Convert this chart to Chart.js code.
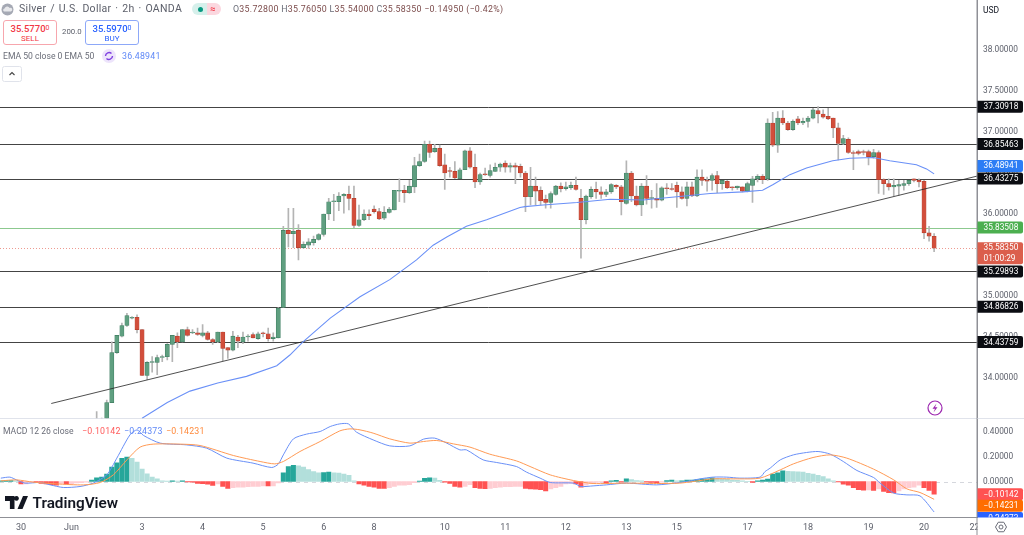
<!DOCTYPE html>
<html><head><meta charset="utf-8">
<script src="https://cdn.jsdelivr.net/npm/chart.js@4"></script>
<style>
html,body{margin:0;padding:0;background:#fff;width:1024px;height:535px;overflow:hidden;font-family:Roboto,sans-serif}
canvas{position:absolute;left:0;top:0}
.t{position:absolute;white-space:nowrap;line-height:12px}
.box{position:absolute;border-radius:3px;box-sizing:border-box;background:#fff;text-align:center}
.box b{display:block;font-weight:500;font-size:9.5px;line-height:11px;margin-top:2px}
.box b small{font-size:7px;vertical-align:2px;font-weight:400}
.box span{display:block;font-size:8px;line-height:10px}
</style></head><body>
<canvas id="c" width="1024" height="535"></canvas>
<svg style="position:absolute;left:1px;top:3px" width="13" height="13" viewBox="0 0 13 13"><circle cx="6.5" cy="6.5" r="6" fill="#a5a9b4"/><path d="M3 8.5a1.6 1.6 0 0 1 .5-3 2.8 2.8 0 0 1 5.2-.6 1.9 1.9 0 0 1 1.3 3.6z" fill="#e8e9ec"/></svg>
<div class="t" style="left:19px;top:3px;font-size:10.5px;color:#5d606b;letter-spacing:.3px;word-spacing:1px">Silver / U.S. Dollar · 2h · OANDA</div>
<div style="position:absolute;left:192px;top:3px;width:29px;height:12px;border-radius:6px;background:linear-gradient(90deg,#d6f0eb 50%,#fbd7df 50%)"></div>
<div style="position:absolute;left:197.5px;top:6.5px;width:5px;height:5px;border-radius:3px;background:#089981"></div>
<div class="t" style="left:210px;top:3px;font-size:9px;color:#f23645;font-weight:700">≈</div>
<div class="t" style="left:233px;top:3px;font-size:8.8px;color:#7d4d4d;letter-spacing:.3px"><span style="color:#6a6d78">O</span>35.72800 <span style="color:#6a6d78">H</span>35.76050 <span style="color:#6a6d78">L</span>35.54000 <span style="color:#6a6d78">C</span>35.58350 −0.14950 (−0.42%)</div>
<div class="box" style="left:3px;top:20px;width:54px;height:25px;border:1px solid #f7a6ad;color:#f23645"><b>35.5770<small>0</small></b><span>SELL</span></div>
<div class="t" style="left:62px;top:26px;font-size:7.8px;color:#5d606b">200.0</div>
<div class="box" style="left:85px;top:20px;width:54px;height:25px;border:1px solid #8da8f8;color:#2962ff"><b>35.5970<small>0</small></b><span>BUY</span></div>
<div class="t" style="left:3px;top:50px;font-size:8.6px;color:#6a6d78">EMA 50 close 0 EMA 50</div>
<svg style="position:absolute;left:102px;top:49px" width="14" height="14" viewBox="0 0 14 14"><circle cx="7" cy="7" r="7" fill="#ede4fb"/><path d="M3.5 7a3.5 3.5 0 0 1 6-2.4M10.5 7a3.5 3.5 0 0 1-6 2.4" fill="none" stroke="#7e3fe0" stroke-width="1.4"/></svg>
<div class="t" style="left:122px;top:50px;font-size:8.8px;color:#5f88f7;letter-spacing:.2px">36.48941</div>
<svg style="position:absolute;left:2px;top:66px" width="20" height="16" viewBox="0 0 20 16"><rect x=".5" y=".5" width="19" height="15" rx="2" fill="#fff" stroke="#e0e3eb"/><path d="M7.5 9l2.5-2.5 2.5 2.5" fill="none" stroke="#444" stroke-width="1.1"/></svg>
<div class="t" style="left:3px;top:425px;font-size:8.6px;color:#6a6d78">MACD 12 26 close</div>
<div class="t" style="left:82px;top:425px;font-size:8.8px;color:#ff5b5b;letter-spacing:.2px">−0.10142</div>
<div class="t" style="left:124px;top:425px;font-size:8.8px;color:#5f88f7;letter-spacing:.2px">−0.24373</div>
<div class="t" style="left:166px;top:425px;font-size:8.8px;color:#ff8a3c;letter-spacing:.2px">−0.14231</div>
<svg style="position:absolute;left:5px;top:496px" width="23" height="14" viewBox="0 0 23 14"><path d="M0 0h9.5v13h-4.6V5H0z M11.5 0a2.4 2.4 0 1 1-.01 0 M18 0h5l-5.5 13h-5z" fill="#131722"/></svg>
<div class="t" style="left:32.5px;top:495px;font-size:15.3px;line-height:16px;font-weight:600;color:#131722">TradingView</div>
<div class="t" style="left:983px;top:4px;font-size:8.5px;color:#131722">USD</div>
<script>
const priceTicks=[34,34.5,35,35.5,36,36.5,37,37.5,38];
const macdTicks=[0.4,0.2,0,-0.2];
const dayTickIndex=[4,14,28,40,52,64,74,88,100,112,124,134,148,160,172,183,193];
const dayTickLabels=['30','Jun','3','4','5','6','8','10','11','12','13','15','17','18','19','20','22'];
const blackLevels=[37.30918,36.85463,36.43275,35.29893,34.86826,34.43759];
const greenLevel=35.83508;
const lastPrice=35.5835;
const emaLast=36.48941;
const histLast=-0.10142, signalLast=-0.14231, macdLast=-0.24373;
const firstCandle=19;
const opens=[33.51,33.51,33.51,33.70,34.31,34.51,34.64,34.73,34.74,34.59,34.03,34.19,34.19,34.25,34.26,34.41,34.51,34.44,34.59,34.55,34.55,34.52,34.55,34.47,34.44,34.56,34.37,34.34,34.50,34.44,34.50,34.53,34.48,34.55,34.54,34.48,34.49,34.86,
35.80,35.76,35.80,35.59,35.62,35.65,35.69,35.75,36.00,36.15,36.15,36.22,36.24,36.19,35.86,35.93,36.00,36.06,36.03,35.95,36.02,36.05,36.28,36.29,36.26,36.33,36.59,36.64,36.85,36.76,36.80,36.60,36.53,36.52,36.43,36.54,36.77,36.57,36.39,36.49,36.47,36.52,36.57,36.62,36.57,36.59,
36.58,36.50,36.21,36.34,36.29,36.18,36.14,36.24,36.34,36.31,36.32,36.35,36.19,35.93,36.21,36.30,36.27,36.24,36.27,36.35,36.33,36.13,36.50,36.22,36.11,36.34,36.19,36.19,36.17,36.32,36.31,36.35,36.27,36.19,36.33,36.22,36.45,36.41,36.41,36.47,36.37,36.40,36.33,36.32,36.33,36.28,
36.35,36.43,36.46,36.43,37.11,36.84,37.17,37.11,37.03,37.16,37.11,37.13,37.17,37.26,37.22,37.19,37.17,37.05,36.86,36.91,36.75,36.76,36.76,36.76,36.70,36.75,36.42,36.37,36.33,36.34,36.35,36.37,36.43,36.41,36.40,35.77,35.728];
const highs=[33.59,33.51,33.73,34.44,34.52,34.67,34.79,34.75,34.77,34.59,34.20,34.26,34.28,34.28,34.42,34.52,34.55,34.59,34.62,34.59,34.61,34.65,34.57,34.48,34.56,34.56,34.37,34.57,34.52,34.56,34.53,34.55,34.56,34.56,34.61,34.55,34.86,35.85,
36.07,36.07,35.87,35.66,35.70,35.73,35.76,36.00,36.19,36.24,36.26,36.25,36.34,36.34,36.11,36.05,36.05,36.10,36.07,36.09,36.08,36.29,36.43,36.35,36.41,36.69,36.73,36.89,36.89,36.85,36.84,36.73,36.57,36.64,36.56,36.78,36.81,36.73,36.50,36.56,36.60,36.62,36.62,36.65,36.62,36.62,
36.61,36.52,36.57,36.45,36.33,36.23,36.27,36.35,36.38,36.39,36.39,36.45,36.30,36.23,36.33,36.39,36.33,36.30,36.37,36.36,36.35,36.65,36.52,36.34,36.37,36.47,36.29,36.37,36.33,36.37,36.37,36.39,36.33,36.39,36.39,36.54,36.54,36.45,36.49,36.52,36.41,36.41,36.33,36.34,36.33,36.39,
36.46,36.48,36.48,37.16,37.24,37.25,37.26,37.13,37.15,37.19,37.17,37.19,37.29,37.31,37.27,37.29,37.17,37.11,36.96,36.93,36.77,36.78,36.78,36.78,36.79,36.77,36.43,36.43,36.43,36.41,36.41,36.41,36.43,36.43,36.41,35.85,35.7605];
const lows=[33.51,33.51,33.51,33.70,34.30,34.50,34.63,34.72,34.55,34.03,33.98,34.07,34.04,34.20,34.22,34.20,34.37,34.44,34.51,34.54,34.52,34.50,34.46,34.41,34.43,34.21,34.24,34.33,34.37,34.42,34.45,34.49,34.47,34.50,34.45,34.45,34.49,34.86,
35.60,35.59,35.44,35.58,35.58,35.62,35.68,35.73,35.93,35.92,36.04,36.01,36.05,35.83,35.85,35.92,35.93,36.01,35.93,35.93,36.01,36.05,36.15,36.14,36.25,36.26,36.58,36.63,36.69,36.75,36.58,36.30,36.45,36.43,36.43,36.54,36.56,36.32,36.36,36.47,36.45,36.52,36.52,36.51,36.51,36.37,
36.45,36.03,36.11,36.11,36.11,36.07,36.07,36.23,36.27,36.29,36.30,36.29,35.46,35.88,36.19,36.19,36.19,36.21,36.25,36.31,35.99,36.12,36.15,36.10,35.98,36.12,36.07,36.08,36.16,36.24,36.29,36.08,36.18,36.10,36.21,36.21,36.35,36.28,36.29,36.26,36.30,36.31,36.29,36.30,36.27,36.27,
36.14,36.39,36.37,36.41,36.82,36.75,37.09,37.02,37.02,37.09,37.09,37.06,37.16,37.11,37.17,37.15,36.93,36.66,36.85,36.74,36.54,36.72,36.72,36.60,36.68,36.25,36.24,36.29,36.22,36.23,36.29,36.35,36.39,36.33,35.70,35.67,35.54];
const closes=[33.51,33.51,33.70,34.31,34.52,34.64,34.76,34.74,34.59,34.03,34.19,34.20,34.25,34.26,34.41,34.52,34.44,34.59,34.52,34.56,34.53,34.55,34.47,34.44,34.56,34.36,34.34,34.51,34.45,34.50,34.51,34.49,34.54,34.54,34.48,34.50,34.85,35.80,
35.76,35.79,35.59,35.63,35.66,35.69,35.75,36.00,36.15,36.16,36.22,36.24,36.19,35.86,35.93,36.00,35.98,36.03,35.94,36.02,36.06,36.29,36.29,36.26,36.34,36.59,36.64,36.85,36.75,36.80,36.59,36.50,36.52,36.44,36.54,36.77,36.57,36.39,36.48,36.48,36.53,36.57,36.61,36.57,36.59,36.57,
36.50,36.21,36.34,36.28,36.16,36.14,36.25,36.34,36.31,36.33,36.35,36.30,35.93,36.22,36.30,36.27,36.24,36.27,36.36,36.33,36.15,36.50,36.22,36.11,36.34,36.19,36.20,36.17,36.32,36.31,36.30,36.27,36.19,36.33,36.22,36.45,36.41,36.40,36.47,36.37,36.41,36.32,36.32,36.34,36.28,36.37,
36.43,36.46,36.42,37.11,36.84,37.17,37.11,37.03,37.13,37.11,37.13,37.17,37.27,37.22,37.18,37.16,37.05,36.86,36.92,36.75,36.74,36.74,36.75,36.70,36.75,36.42,36.37,36.33,36.35,36.36,36.37,36.41,36.41,36.39,35.77,35.73,35.5835];
const emaIdx=[28,33,37.5,43,48.7,54.7,57.3,59.9,65.3,71.2,77.1,82.4,85.7,88.4,92.3,96.3,102.9,103.9,107.5,114.2,120.8,127.3,134,140.6,147.1,151,153.1,156.4,159.7,164.9,168.3,172.9,176.2,181.5,183.5,185];
const emaVal=[33.51,33.70,33.84,33.94,34.02,34.15,34.28,34.44,34.73,34.99,35.20,35.44,35.62,35.72,35.85,35.93,36.08,36.09,36.11,36.14,36.18,36.17,36.21,36.25,36.27,36.29,36.36,36.48,36.56,36.65,36.68,36.69,36.65,36.60,36.55,36.48941];
const trendIdx=[10,193.5];
const trendVal=[33.689,36.462];
const hist=[.005,.008,.008,.005,-.02,-.02,-.008,-.01,-.015,-.02,
-.025,-.03,-.015,-.02,-.02,-.012,-.01,-.005,.012,.03,
.035,.06,.115,.15,.185,.195,.185,.155,.10,.062,
.035,.022,.005,.003,.006,.003,.006,-.003,-.005,-.015,
-.018,-.022,-.032,-.02,-.04,-.055,-.05,-.045,-.045,-.042,
-.04,-.04,-.035,-.036,-.035,-.012,.07,.12,.13,.125,
.115,.095,.08,.07,.072,.075,.07,.068,.06,.05,
.005,-.02,-.03,-.04,-.045,-.055,-.056,-.05,-.04,-.03,
-.03,-.025,-.01,.003,.025,.03,.028,.01,-.005,-.015,
-.04,-.045,-.04,-.025,-.05,-.055,-.057,-.055,-.05,-.045,
-.042,-.042,-.04,-.04,-.055,-.06,-.062,-.065,-.075,-.06,
-.05,-.04,-.02,-.015,-.02,-.045,-.03,-.015,-.008,-.005,
-.01,.005,.01,-.005,.022,.015,.008,.005,-.005,-.008,
-.01,-.005,.008,.012,.005,.005,.012,.012,.015,.02,
.022,.03,.025,.02,.017,.012,.01,.005,.002,-.008,
.005,.012,.02,.06,.07,.085,.082,.08,.077,.075,
.065,.06,.05,.04,.022,.005,-.003,-.022,-.03,-.05,
-.065,-.07,-.068,-.072,-.06,-.08,-.09,-.091,-.075,-.06,
-.05,-.045,-.03,-.05,-.072,-.10142];
const macdIdx=[0,1.8,3.1,4.8,7.8,9.8,12.4,15.7,18.3,21,23,25.6,27,28.3,31.6,36.8,40.8,44.8,50,53.7,55,56,58,60.6,63.3,65.3,67.2,68.9,70.5,73.8,77.1,81.1,83.8,86,88.4,91,92.3,95.6,98.3,102.2,104.2,106.9,108.9,113.5,115,117.4,120,124,130,134.6,136.6,138.6,141.2,143.9,146.5,150.5,151.5,152.5,154.5,157.1,159.7,162,164.4,167,169.7,173,174.3,177,179.6,182.2,185];
const macdVal=[.027,.035,.013,-.013,-.008,-.027,-.048,-.04,-.013,.053,.187,.373,.413,.368,.307,.293,.267,.187,.147,.112,.139,.213,.341,.379,.40,.44,.461,.461,.395,.333,.285,.285,.339,.347,.307,.253,.253,.173,.152,.12,.075,.027,-.008,-.013,-.04,-.035,-.027,-.013,-.027,-.008,.005,.021,.035,.035,.027,.035,.08,.107,.173,.213,.232,.24,.219,.16,.088,.032,-.013,-.093,-.107,-.115,-.24373];
const signalIdx=[0,3.1,6.4,11,16.4,19.7,22.3,25,27.6,30.2,35.5,39.5,46.1,51.4,54.3,56,59.3,63.3,67.2,69.2,71.2,73.8,77.1,81.1,83.8,86.4,89.7,93,96.9,102.2,104.9,108.9,113.5,117.4,124,130,134.6,137.3,141.2,146.5,150.5,154.5,157.1,161,164.4,167.7,173,177,179.6,182.2,185];
const signalVal=[.005,.013,-.005,-.019,-.027,-.008,.053,.173,.275,.299,.299,.288,.208,.16,.141,.16,.24,.32,.405,.421,.413,.387,.341,.307,.32,.328,.301,.275,.219,.165,.12,.053,.008,-.016,-.013,-.016,-.013,0,.021,.021,.027,.093,.141,.192,.213,.187,.099,.013,-.059,-.088,-.14231];

const pts=(xs,ys)=>xs.map((x,i)=>({x,y:ys[i]}));
const candleX=i=>i+firstCandle;
const UP='#5f9f80',UPB='#3f7d61',DN='#d24e3b',DNB='#b23f2e';
const histColors=hist.map((v,i)=>{const p=i?hist[i-1]:0;return v>=0?(v>=p?'#26a69a':'#b2dfdb'):(v<p?'#ff5252':'#ffcdd2');});
const FONT='Roboto,sans-serif';
const noPad=a=>{a.paddingTop=a.paddingBottom=a.paddingLeft=a.paddingRight=0;};

const overlay={id:'overlay',
 beforeDatasetsDraw(c){
  const g=c.ctx,y=c.scales.y,m=c.scales.yM,R=977;
  g.save();
  g.strokeStyle='#e0e3eb';g.lineWidth=1;g.beginPath();g.moveTo(0,418.5);g.lineTo(1024,418.5);g.stroke();
  g.strokeStyle='rgba(35,35,35,.85)';
  blackLevels.forEach(v=>{const p=Math.round(y.getPixelForValue(v))+.5;g.beginPath();g.moveTo(0,p);g.lineTo(R,p);g.stroke();});
  g.strokeStyle='#8cc98f';let p=Math.round(y.getPixelForValue(greenLevel))+.5;g.beginPath();g.moveTo(0,p);g.lineTo(R,p);g.stroke();
  g.strokeStyle='#ee9a90';g.setLineDash([1,2]);p=Math.round(y.getPixelForValue(lastPrice))+.5;g.beginPath();g.moveTo(0,p);g.lineTo(R,p);g.stroke();
  g.strokeStyle='#d5d7dd';g.setLineDash([4,4]);p=Math.round(m.getPixelForValue(0))+.5;g.beginPath();g.moveTo(0,p);g.lineTo(R,p);g.stroke();
  g.restore();
 },
 afterDraw(c){
  const g=c.ctx,y=c.scales.y,m=c.scales.yM,L=977,W=46;
  const tag=(cy,h,col,lines,clipB)=>{
   g.save();
   if(clipB){g.beginPath();g.rect(L,418,47,clipB-418);g.clip();}
   g.fillStyle=col;g.beginPath();g.roundRect(L,cy-h/2,W,h,[0,2,2,0]);g.fill();
   g.fillStyle='#fff';g.font='8.3px '+FONT;g.textBaseline='middle';g.textAlign='left';
   lines.forEach((t,i)=>g.fillText(t,983.5,cy+(i-(lines.length-1)/2)*10.5+.5));
   g.restore();
  };
  blackLevels.forEach(v=>tag(y.getPixelForValue(v),12,'#0b0d12',[v.toFixed(5)]));
  tag(y.getPixelForValue(emaLast)-8,12,'#2c7df5',[emaLast.toFixed(5)]);
  tag(y.getPixelForValue(greenLevel),12,'#4caf50',[greenLevel.toFixed(5)]);
  tag(y.getPixelForValue(lastPrice)+5,22,'#db5e4c',[lastPrice.toFixed(5),'01:00:29']);
  tag(m.getPixelForValue(macdLast)+6,12,'#2962ff',['−'+Math.abs(macdLast).toFixed(5)],517.5);
  tag(m.getPixelForValue(histLast),12,'#ff5252',['−'+Math.abs(histLast).toFixed(5)]);
  tag(m.getPixelForValue(signalLast)+6.5,12,'#ff6d00',['−'+Math.abs(signalLast).toFixed(5)]);
  // bottom-right corner
  g.save();
  g.fillStyle='#fff';g.fillRect(977.5,518,47,17);
  g.strokeStyle='#8f9096';g.lineWidth=1;g.beginPath();g.moveTo(977,0);g.lineTo(977,535);g.stroke();
  g.strokeStyle='#6a6d78';g.lineWidth=1;const cx=1001,cy=527,r=5.5;g.beginPath();
  for(let a=0;a<6;a++){const t=Math.PI/3*a;g[a?'lineTo':'moveTo'](cx+r*Math.cos(t),cy+r*Math.sin(t));}
  g.closePath();g.stroke();g.beginPath();g.arc(cx,cy,2,0,7);g.stroke();
  // alert bolt
  g.strokeStyle='#9c27b0';g.lineWidth=1.2;g.beginPath();g.arc(935,408,7,0,7);g.stroke();
  g.fillStyle='#9c27b0';g.beginPath();g.moveTo(936.5,403.5);g.lineTo(932.5,408.7);g.lineTo(935,408.7);g.lineTo(933.5,412.5);g.lineTo(937.5,407.3);g.lineTo(935,407.3);g.closePath();g.fill();
  g.restore();
 }};

new Chart(document.getElementById('c'),{
 type:'bar',
 plugins:[overlay],
 data:{datasets:[
  {type:'line',data:pts(macdIdx,macdVal),yAxisID:'yM',borderColor:'#6a90f7',borderWidth:1,pointRadius:0,tension:.25,order:1},
  {type:'line',data:pts(signalIdx,signalVal),yAxisID:'yM',borderColor:'#ff9a55',borderWidth:1,pointRadius:0,tension:.25,order:0},
  {type:'line',data:pts(emaIdx,emaVal),yAxisID:'y',borderColor:'#6a90f7',borderWidth:1.1,pointRadius:0,tension:0,order:1},
  {type:'line',data:pts(trendIdx,trendVal),yAxisID:'y',borderColor:'rgba(35,35,35,.8)',borderWidth:1,pointRadius:0,tension:0,order:1},
  {data:hist.map((v,i)=>({x:i,y:v})),yAxisID:'yM',backgroundColor:histColors,barThickness:4.4,grouped:false,order:4},
  {data:opens.map((o,i)=>({x:candleX(i),y:[o,closes[i]]})),yAxisID:'y',backgroundColor:opens.map((o,i)=>closes[i]>=o?UP:DN),borderColor:opens.map((o,i)=>closes[i]>=o?UPB:DNB),borderWidth:.6,borderSkipped:false,barThickness:4.2,grouped:false,order:2},
  {data:opens.map((o,i)=>({x:candleX(i),y:[lows[i],highs[i]]})),yAxisID:'y',backgroundColor:'#b4b4b4',barThickness:1,grouped:false,order:3}
 ]},
 options:{
  responsive:false,animation:false,devicePixelRatio:1,
  layout:{padding:0},
  plugins:{legend:{display:false},tooltip:{enabled:false}},
  events:[],
  scales:{
   x:{type:'linear',offset:false,min:-0.16,max:193.5,
    grid:{display:false,drawTicks:false},border:{color:'#8f9096'},
    afterBuildTicks(a){a.ticks=dayTickIndex.map(v=>({value:v}));},
    afterFit(a){a.height=17.5;noPad(a);},
    ticks:{autoSkip:false,maxRotation:0,padding:5,color:'#5d606b',font:{family:FONT,size:9},callback:v=>dayTickLabels[dayTickIndex.indexOf(v)]}},
   y:{type:'linear',position:'right',stack:'p',stackWeight:418.5,min:33.506,max:38.61,
    grid:{display:false,drawTicks:false},border:{color:'#8f9096'},
    afterBuildTicks(a){a.ticks=priceTicks.map(v=>({value:v}));},
    afterFit(a){a.width=47;noPad(a);},
    ticks:{autoSkip:false,padding:6,color:'#5d606b',font:{family:FONT,size:8.3},callback:v=>v.toFixed(5)}},
   yM:{type:'linear',position:'right',stack:'p',stackWeight:99,min:-0.288,max:0.504,
    grid:{display:false,drawTicks:false},border:{color:'#8f9096'},
    afterBuildTicks(a){a.ticks=macdTicks.map(v=>({value:v}));},
    afterFit(a){a.width=47;noPad(a);},
    ticks:{autoSkip:false,padding:6,color:'#5d606b',font:{family:FONT,size:8.3},callback:v=>v.toFixed(5)}}
  }
 }
});
</script>
</body></html>
